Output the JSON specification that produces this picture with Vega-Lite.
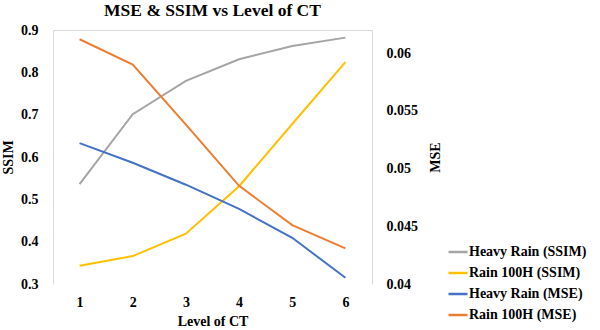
{
  "$schema": "https://vega.github.io/schema/vega-lite/v6.json",
  "width": 319,
  "height": 254,
  "autosize": {"type": "none"},
  "padding": {"left": 53, "top": 30, "right": 228, "bottom": 46},
  "background": "white",
  "config": {
    "view": {"stroke": null},
    "font": "Liberation Serif",
    "axis": {
      "ticks": false,
      "grid": false,
      "domainColor": "#D9D9D9",
      "domainWidth": 1
    }
  },
  "title": {
    "text": "MSE & SSIM vs Level of CT",
    "font": "Liberation Serif",
    "fontSize": 17.5,
    "fontWeight": "bold",
    "color": "#000000",
    "anchor": "middle",
    "offset": 4
  },
  "data": {
    "values": [
      {"ct": 1, "series": "Heavy Rain (SSIM)", "metric": "SSIM", "value": 0.536},
      {"ct": 2, "series": "Heavy Rain (SSIM)", "metric": "SSIM", "value": 0.701},
      {"ct": 3, "series": "Heavy Rain (SSIM)", "metric": "SSIM", "value": 0.780},
      {"ct": 4, "series": "Heavy Rain (SSIM)", "metric": "SSIM", "value": 0.831},
      {"ct": 5, "series": "Heavy Rain (SSIM)", "metric": "SSIM", "value": 0.862},
      {"ct": 6, "series": "Heavy Rain (SSIM)", "metric": "SSIM", "value": 0.882},
      {"ct": 1, "series": "Rain 100H (SSIM)", "metric": "SSIM", "value": 0.343},
      {"ct": 2, "series": "Rain 100H (SSIM)", "metric": "SSIM", "value": 0.366},
      {"ct": 3, "series": "Rain 100H (SSIM)", "metric": "SSIM", "value": 0.419},
      {"ct": 4, "series": "Rain 100H (SSIM)", "metric": "SSIM", "value": 0.531},
      {"ct": 5, "series": "Rain 100H (SSIM)", "metric": "SSIM", "value": 0.678},
      {"ct": 6, "series": "Rain 100H (SSIM)", "metric": "SSIM", "value": 0.824},
      {"ct": 1, "series": "Heavy Rain (MSE)", "metric": "MSE", "value": 0.0522},
      {"ct": 2, "series": "Heavy Rain (MSE)", "metric": "MSE", "value": 0.0505},
      {"ct": 3, "series": "Heavy Rain (MSE)", "metric": "MSE", "value": 0.0486},
      {"ct": 4, "series": "Heavy Rain (MSE)", "metric": "MSE", "value": 0.0465},
      {"ct": 5, "series": "Heavy Rain (MSE)", "metric": "MSE", "value": 0.0440},
      {"ct": 6, "series": "Heavy Rain (MSE)", "metric": "MSE", "value": 0.04054},
      {"ct": 1, "series": "Rain 100H (MSE)", "metric": "MSE", "value": 0.0612},
      {"ct": 2, "series": "Rain 100H (MSE)", "metric": "MSE", "value": 0.0590},
      {"ct": 3, "series": "Rain 100H (MSE)", "metric": "MSE", "value": 0.0538},
      {"ct": 4, "series": "Rain 100H (MSE)", "metric": "MSE", "value": 0.0485},
      {"ct": 5, "series": "Rain 100H (MSE)", "metric": "MSE", "value": 0.0451},
      {"ct": 6, "series": "Rain 100H (MSE)", "metric": "MSE", "value": 0.04308}
    ]
  },
  "layer": [
    {
      "transform": [{"filter": "datum.metric === 'SSIM'"}],
      "mark": {"type": "line", "strokeWidth": 2},
      "encoding": {
        "x": {
          "field": "ct",
          "type": "ordinal",
          "scale": {"type": "point", "padding": 0.5},
          "axis": {
            "orient": "bottom", "title": "Level of CT", "labelAngle": 0, "domain": false,
            "labelPadding": 11, "titlePadding": 5,
            "labelFont": "Liberation Serif", "labelFontWeight": "bold", "labelFontSize": 14, "labelColor": "#000000",
            "titleFont": "Liberation Serif", "titleFontWeight": "bold", "titleFontSize": 14, "titleColor": "#000000"
          }
        },
        "y": {
          "field": "value",
          "type": "quantitative",
          "scale": {"domain": [0.3, 0.9], "nice": false, "zero": false},
          "axis": {
            "orient": "left", "title": "SSIM", "values": [0.3, 0.4, 0.5, 0.6, 0.7, 0.8, 0.9], "format": ".1f",
            "labelPadding": 15, "titlePadding": 5,
            "labelFont": "Liberation Serif", "labelFontWeight": "bold", "labelFontSize": 14, "labelColor": "#000000",
            "titleFont": "Liberation Serif", "titleFontWeight": "bold", "titleFontSize": 14, "titleColor": "#000000"
          }
        },
        "color": {
          "field": "series",
          "type": "nominal",
          "scale": {
            "domain": ["Heavy Rain (SSIM)", "Rain 100H (SSIM)", "Heavy Rain (MSE)", "Rain 100H (MSE)"],
            "range": ["#A5A5A5", "#FFC000", "#4472C4", "#ED7D31"]
          },
          "legend": {
            "title": null,
            "orient": "none",
            "legendX": 394,
            "legendY": 211,
            "symbolType": "stroke",
            "symbolSize": 361,
            "symbolStrokeWidth": 2.5,
            "labelOffset": 0,
            "rowPadding": 3,
            "padding": 0,
            "labelFont": "Liberation Serif", "labelFontWeight": "bold", "labelFontSize": 14, "labelColor": "#000000"
          }
        }
      }
    },
    {
      "transform": [{"filter": "datum.metric === 'MSE'"}],
      "mark": {"type": "line", "strokeWidth": 2},
      "encoding": {
        "x": {
          "field": "ct",
          "type": "ordinal",
          "scale": {"type": "point", "padding": 0.5},
          "axis": {"orient": "top", "title": null, "labels": false, "domain": true}
        },
        "y": {
          "field": "value",
          "type": "quantitative",
          "scale": {"domain": [0.04, 0.062], "nice": false, "zero": false},
          "axis": {
            "orient": "right", "title": "MSE", "titleAngle": 270, "titleAlign": "center", "titleBaseline": "middle",
            "titleX": 63, "titleY": 127, "values": [0.04, 0.045, 0.05, 0.055, 0.06], "format": "~g", "labelPadding": 14,
            "labelFont": "Liberation Serif", "labelFontWeight": "bold", "labelFontSize": 14, "labelColor": "#000000",
            "titleFont": "Liberation Serif", "titleFontWeight": "bold", "titleFontSize": 14, "titleColor": "#000000"
          }
        },
        "color": {"field": "series", "type": "nominal"}
      }
    }
  ],
  "resolve": {"scale": {"y": "independent"}, "axis": {"x": "independent", "y": "independent"}}
}
